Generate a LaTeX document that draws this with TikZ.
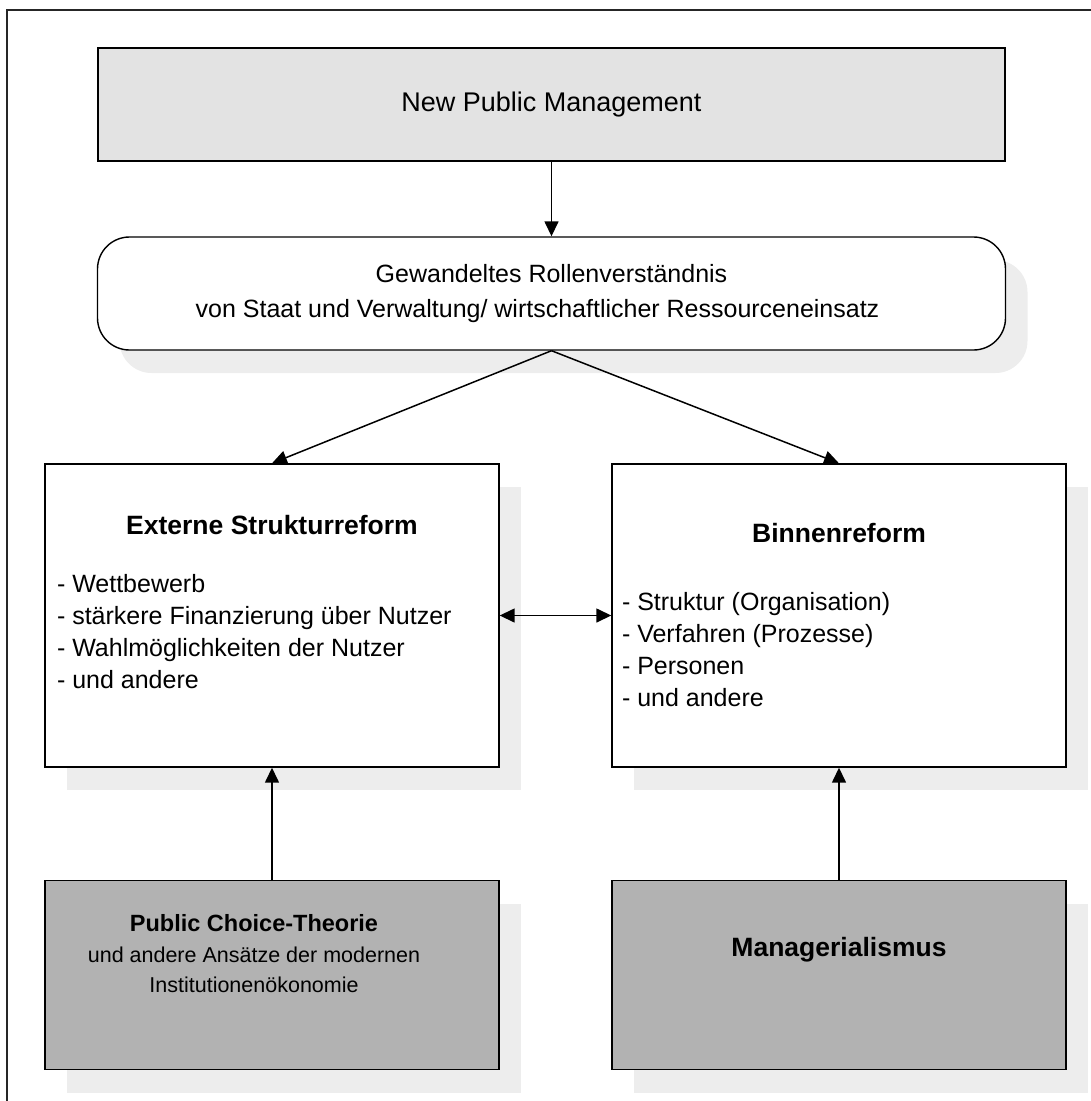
\documentclass[tikz,border=0pt]{standalone}
\usepackage{fontspec}
\setmainfont{Liberation Sans}
\usetikzlibrary{positioning,shadows,arrows.meta}

\begin{document}
\begin{tikzpicture}[
        x=1pt,y=-1pt,
        on grid,node distance=359.5pt and 567pt,
        font=\fontsize{25}{32}\selectfont,
        box/.style={draw,line width=1.4pt,inner sep=0pt},
        topbox/.style={box,fill=black!11,minimum width=907pt,minimum height=113pt,
          font=\fontsize{27}{32}\selectfont},
        rolebox/.style={box,fill=white,rounded corners=32pt,align=center,
          minimum width=908pt,minimum height=113pt,
          drop shadow={shadow xshift=22pt,shadow yshift=-23pt,fill=black!7,opacity=1}},
        reform/.style={box,fill=white,minimum width=454pt,minimum height=303pt,
          drop shadow={shadow xshift=22pt,shadow yshift=-23pt,fill=black!7,opacity=1}},
        theory/.style={reform,fill=black!30,minimum height=189pt},
        outerline/.style={line width=1.8pt,black!85},
        every edge/.append style={draw,line width=1.5pt,-{Triangle[length=15pt,width=14pt]}}]
      \useasboundingbox (0,0) rectangle (1091,1101);
      \draw[outerline] (7,1101) |- (1091,10);
      \node[topbox] (npm) at (551.5,104.5) {New Public Management};
      \node[rolebox, below=189pt of npm] (role)
        {Gewandeltes Rollenverständnis\\[3pt]
         von Staat und Verwaltung/ wirtschaftlicher Ressourceneinsatz\hspace*{28pt}};
      \node[reform, below left=322pt and 279.5pt of role] (extern)
        {\parbox[c][303pt][t]{430pt}{\centering
          \rule{0pt}{70pt}{\fontsize{26.5}{32}\selectfont\bfseries Externe Strukturreform}\par
          \raggedright\rule{0pt}{57pt}- Wettbewerb\\
          - stärkere Finanzierung über Nutzer\\
          - Wahlmöglichkeiten der Nutzer\\
          - und andere}};
      \node[reform, right=of extern] (binnen)
        {\parbox[c][303pt][t]{434pt}{\centering
          \rule{0pt}{78pt}{\fontsize{26.5}{32}\selectfont\bfseries Binnenreform}\par
          \raggedright\rule{0pt}{67pt}- Struktur (Organisation)\\
          - Verfahren (Prozesse)\\
          - Personen\\
          - und andere}};
      \node[theory, below=of extern] (pct)
        {\parbox[c][189pt][t]{418pt}{\centering
          \rule{0pt}{51pt}{\fontsize{23.5}{30}\selectfont\bfseries Public Choice-Theorie}\par
          \fontsize{21.5}{30.5}\selectfont
          und andere Ansätze der modernen\\
          Institutionenökonomie}\hspace*{36pt}};
      \node[theory, below=of binnen] (manag)
        {\parbox[c][189pt][t]{454pt}{\centering
          \rule{0pt}{76pt}{\fontsize{26.5}{32}\selectfont\bfseries Managerialismus}}};
      \path (npm) edge (role);
      \path (role.south) edge (extern.north);
      \path (role.south) edge (binnen.north);
      \path (extern) edge[{Triangle[length=15pt,width=14pt]}-{Triangle[length=15pt,width=14pt]}] (binnen);
      \path (pct) edge (extern);
      \path (manag) edge (binnen);
    \end{tikzpicture}
\end{document}
